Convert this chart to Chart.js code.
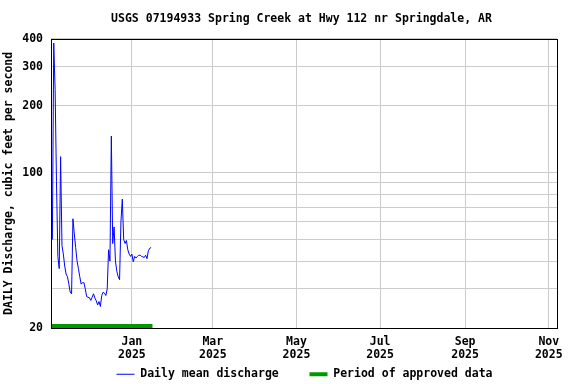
<!DOCTYPE html>
<html>
<head>
<meta charset="utf-8">
<script src="https://cdn.jsdelivr.net/npm/chart.js@4.4.1/dist/chart.umd.min.js"></script>
<style>
  html, body { margin: 0; padding: 0; background: #fff; }
</style>
</head>
<body>
<canvas id="chart" width="576" height="384"></canvas>
<script>
// daily mean discharge, cfs, one value per day from startDate
const startDate = "2024-11-04";
const discharge = [
  50, 383, 236, 91, 42, 37, 118, 47, 43, 38,
  35, 34, 31.6, 29, 28.5, 62, 53, 46, 40, 37,
  34, 31.5, 32, 32, 30, 27.7, 27.5, 27.4, 26.6, 27.5,
  28.5, 27.3, 26.5, 25.4, 26.3, 25, 28, 29, 28.7, 28,
  30, 45, 40, 146, 48, 57, 40, 36, 34, 33,
  60, 76, 50, 48, 49.5, 45, 43, 42, 43, 39.7,
  42, 41.3, 42, 42.5, 42.5, 42, 41.8, 41.5, 42.5, 41,
  44.5, 45.7, 46
];
const approvedPeriod = ["2024-11-03", "2025-01-16"];
const approvedLevel = 20.4;
const axisRange = ["2024-11-03", "2025-11-07"];
const tickDates = ["2025-01-01", "2025-03-01", "2025-05-01", "2025-07-01", "2025-09-01", "2025-11-01"];
const tickLabels = [["Jan", "2025"], ["Mar", "2025"], ["May", "2025"], ["Jul", "2025"], ["Sep", "2025"], ["Nov", "2025"]];
const yTicks = [20, 30, 40, 50, 60, 70, 80, 90, 100, 200, 300, 400];
const yLabels = [20, 100, 200, 300, 400];

function dayNum(s) {
  const p = s.split("-").map(Number);
  return Date.UTC(p[0], p[1] - 1, p[2]) / 86400000;
}

const start = dayNum(startDate);
const flowPoints = discharge.map((v, i) => ({ x: start + i, y: v }));
const approvedPoints = approvedPeriod.map(d => ({ x: dayNum(d), y: approvedLevel }));

Chart.defaults.font.family = "'DejaVu Sans Mono', monospace";
Chart.defaults.font.weight = "bold";
Chart.defaults.font.size = 11.5;
Chart.defaults.color = "#000";

// black frame round the plot, and nudge title/legend to sit over the plot centre
const framePlugin = {
  id: "frame",
  afterLayout(chart) {
    chart.titleBlock.left += 46;
    chart.legend.left += 52;
    chart.legend.top += 6;
    chart.legend.bottom += 6;
    // x axis was squeezed in afterFit; give its labels room again so they are not clipped
    chart.scales.x.bottom += 20;
    chart.scales.x.height += 20;
  },
  afterDatasetsDraw(chart) {
    const a = chart.chartArea;
    const ctx = chart.ctx;
    ctx.save();
    ctx.strokeStyle = "#000";
    ctx.lineWidth = 1;
    ctx.strokeRect(Math.round(a.left) + 0.5, Math.round(a.top) + 0.5,
      Math.round(a.right - a.left), Math.round(a.bottom - a.top));
    ctx.restore();
  }
};

new Chart(document.getElementById("chart"), {
  type: "line",
  data: {
    datasets: [
      {
        label: "Daily mean discharge   ",
        data: flowPoints,
        borderColor: "#0000ff",
        backgroundColor: "#0000ff",
        borderWidth: 1,
        pointRadius: 0,
        tension: 0,
        fill: false
      },
      {
        label: "Period of approved data",
        data: approvedPoints,
        borderColor: "#009900",
        backgroundColor: "#009900",
        borderWidth: 4,
        pointRadius: 0,
        fill: false,
        clip: false
      }
    ]
  },
  options: {
    responsive: false,
    animation: false,
    layout: { padding: { left: 0, right: 19, top: 0, bottom: 0 } },
    plugins: {
      title: {
        display: true,
        text: "USGS 07194933 Spring Creek at Hwy 112 nr Springdale, AR",
        font: { size: 11.5, weight: "bold", lineHeight: 1.2 },
        padding: { top: 12, bottom: 13 }
      },
      legend: {
        position: "bottom",
        labels: {
          usePointStyle: true,
          pointStyle: "line",
          pointStyleWidth: 18,
          padding: 10,
          color: "#000"
        }
      },
      tooltip: { enabled: false }
    },
    scales: {
      x: {
        type: "linear",
        min: dayNum(axisRange[0]),
        max: dayNum(axisRange[1]),
        afterBuildTicks(axis) {
          axis.ticks = tickDates.map(d => ({ value: dayNum(d) }));
        },
        afterFit(axis) {
          axis.height = 24.5;
        },
        ticks: {
          autoSkip: false,
          maxRotation: 0,
          padding: 7,
          font: { lineHeight: 1.17 },
          callback: (v, i) => tickLabels[i]
        },
        grid: { color: "#cccccc", drawTicks: false },
        border: { display: false }
      },
      y: {
        type: "logarithmic",
        min: 20,
        max: 400,
        afterBuildTicks(axis) {
          axis.ticks = yTicks.map(v => ({ value: v }));
        },
        afterFit(axis) {
          axis.width = 51;
        },
        ticks: {
          autoSkip: false,
          padding: 8,
          callback: v => yLabels.includes(v) ? String(v) : ""
        },
        grid: { color: "#cccccc", drawTicks: false },
        border: { display: false },
        title: {
          display: true,
          text: "DAILY Discharge, cubic feet per second",
          font: { lineHeight: 1.2 },
          padding: { top: 2, bottom: 0 }
        }
      }
    }
  },
  plugins: [framePlugin]
});
</script>
</body>
</html>
